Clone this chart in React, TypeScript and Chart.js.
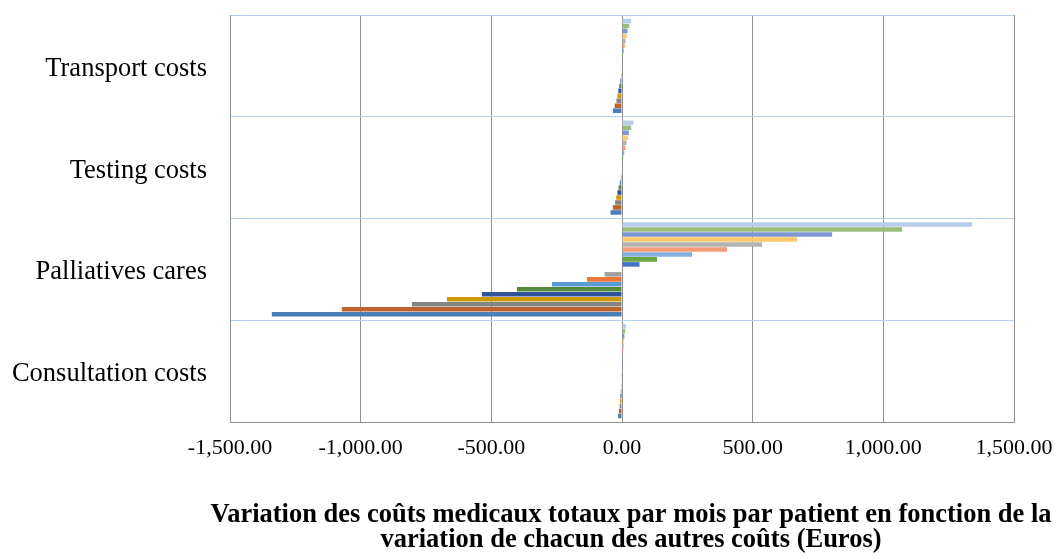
import React, { useEffect, useRef } from "react";
import { Chart, registerables } from "chart.js";

Chart.register(...registerables);

// Categories, top to bottom as drawn
const categories = ["Transport costs", "Testing costs", "Palliatives cares", "Consultation costs"];

// Series (variation scenarios), in order from the bottom bar of a group to the top bar
const seriesNames = [
  "-100%", "-80%", "-60%", "-50%", "-40%", "-30%", "-20%", "-10%", "-5%", "0%",
  "5%", "10%", "20%", "30%", "40%", "50%", "60%", "80%", "100%",
];

const seriesColors = [
  "#4A7EBB", "#C0622B", "#858585", "#CC9A06", "#30549A", "#578A3A", "#5B9BD5", "#E8793A", "#A0A0A0", "#4472C4",
  "#4472C4", "#6AA545", "#86AEDE", "#F29B74", "#B3B3B3", "#FFC96B", "#7E97D3", "#98BE7E", "#B8CDEA",
];

// Values per category, same series order as above
const transportValues = [-35, -28, -21, -17.5, -14, -10.5, -7, -3.5, -1.75, 0, 1.75, 3.5, 7, 10.5, 14, 17.5, 21, 28, 35];
const testingValues = [-44, -35.2, -26.4, -22, -17.6, -13.2, -8.8, -4.4, -2.2, 0, 2.2, 4.4, 8.8, 13.2, 17.6, 22, 26.4, 35.2, 44];
const palliativeValues = [-1340, -1072, -804, -670, -536, -402, -268, -134, -67, 0, 67, 134, 268, 402, 536, 670, 804, 1072, 1340];
const consultationValues = [-15, -12, -9, -7.5, -6, -4.5, -3, -1.5, -0.75, 0, 0.75, 1.5, 3, 4.5, 6, 7.5, 9, 12, 15];

const xMin = -1500;
const xMax = 1500;
const xStep = 500;

const titleLines = [
  "Variation des coûts medicaux totaux par mois par patient en fonction de la",
  "variation de chacun des autres coûts (Euros)",
];

const FONT = "'Liberation Serif', 'Times New Roman', serif";

export default function App() {
  const ref = useRef<HTMLCanvasElement>(null);

  useEffect(() => {
    if (!ref.current) return;
    const byCategory = [transportValues, testingValues, palliativeValues, consultationValues];
    const datasets = seriesNames
      .map((name, i) => ({
        label: name,
        data: byCategory.map((arr) => arr[i]),
        backgroundColor: seriesColors[i],
        borderWidth: 0,
        barPercentage: 0.92,
        categoryPercentage: 0.93,
      }))
      .reverse();

    const axisTitle = {
      id: "axisTitle",
      afterDraw(chart: any) {
        const { ctx } = chart;
        const x = chart.scales.x;
        ctx.save();
        ctx.font = `bold 26.5px ${FONT}`;
        ctx.fillStyle = "#000";
        ctx.textAlign = "center";
        ctx.textBaseline = "alphabetic";
        const cx = (x.left + x.right) / 2 + 9;
        titleLines.forEach((line, i) => ctx.fillText(line, cx, x.bottom - 36 + i * 25));
        ctx.restore();
      },
    };

    const chart = new Chart(ref.current, {
      type: "bar",
      data: { labels: categories, datasets },
      plugins: [axisTitle],
      options: {
        indexAxis: "y",
        animation: false,
        responsive: true,
        maintainAspectRatio: false,
        layout: { padding: { top: 15, right: 44, left: 0, bottom: 0 } },
        plugins: { legend: { display: false }, tooltip: { enabled: false } },
        scales: {
          x: {
            type: "linear",
            min: xMin,
            max: xMax,
            ticks: {
              stepSize: xStep,
              color: "#000",
              font: { family: FONT, size: 22 },
              padding: 13,
              callback: (v: any) =>
                Number(v).toLocaleString("en-US", { minimumFractionDigits: 2, maximumFractionDigits: 2 }),
            },
            grid: { color: "#8F8F8F", lineWidth: 1, drawTicks: false },
            border: { display: true, color: "#8F8F8F" },
            afterFit: (s: any) => {
              s.height = 136;
              s.paddingLeft = 0;
              s.paddingRight = 0;
            },
          },
          y: {
            type: "category",
            ticks: { color: "#000", font: { family: FONT, size: 26.5 }, padding: 23, labelOffset: 3 },
            grid: { color: "#B4D0EE", lineWidth: 1, drawTicks: false, offset: true },
            border: { display: true, color: "#8F8F8F" },
            afterFit: (s: any) => {
              s.width = 230;
              s.paddingTop = 0;
              s.paddingBottom = 0;
            },
          },
        },
      },
    });
    return () => chart.destroy();
  }, []);

  return (
    <div style={{ position: "fixed", left: 0, top: 0, width: 1058, height: 558, background: "#fff" }}>
      <canvas ref={ref} />
    </div>
  );
}
